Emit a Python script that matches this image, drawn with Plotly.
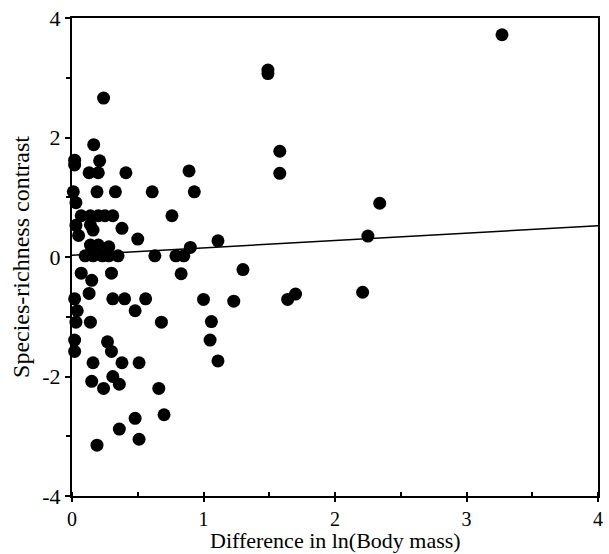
import plotly.graph_objects as go

diff_ln_mass = [3.27, 1.49, 1.49, 0.24, 1.58, 1.58, 2.34, 2.25, 2.21, 1.70, 1.64,
                0.165, 0.02, 0.02, 0.21, 0.13, 0.20, 0.41, 0.89,
                0.01, 0.19, 0.33, 0.61, 0.93, 0.03,
                0.07, 0.14, 0.20, 0.25, 0.31, 0.76,
                0.03, 0.14, 0.16, 0.38, 0.05, 0.50, 1.11,
                0.14, 0.20, 0.28, 0.90,
                0.10, 0.16, 0.23, 0.28, 0.35, 0.63, 0.79, 0.85,
                0.07, 0.30, 0.83, 1.30, 0.15, 0.13,
                0.02, 0.31, 0.40, 0.56, 1.00, 1.23,
                0.04, 0.48, 0.03, 0.14, 0.68, 1.06,
                0.02, 0.02, 0.27, 0.30, 1.05, 1.11,
                0.16, 0.38, 0.51, 0.15, 0.24, 0.31, 0.36, 0.66,
                0.70, 0.48, 0.36, 0.51, 0.19]
richness_contrast = [3.72, 3.13, 3.07, 2.66, 1.77, 1.40, 0.90, 0.35, -0.59, -0.62, -0.71,
                     1.88, 1.62, 1.54, 1.61, 1.41, 1.41, 1.41, 1.44,
                     1.09, 1.09, 1.09, 1.09, 1.09, 0.91,
                     0.69, 0.69, 0.69, 0.69, 0.69, 0.69,
                     0.53, 0.54, 0.45, 0.48, 0.36, 0.30, 0.27,
                     0.20, 0.20, 0.17, 0.16,
                     0.02, 0.02, 0.02, 0.02, 0.02, 0.02, 0.02, 0.02,
                     -0.27, -0.27, -0.28, -0.21, -0.39, -0.61,
                     -0.70, -0.70, -0.70, -0.70, -0.71, -0.74,
                     -0.90, -0.90, -1.09, -1.09, -1.09, -1.08,
                     -1.39, -1.58, -1.42, -1.58, -1.39, -1.74,
                     -1.77, -1.77, -1.77, -2.08, -2.20, -2.00, -2.13, -2.20,
                     -2.64, -2.70, -2.88, -3.05, -3.15]

fit_intercept = 0.03
fit_slope = 0.123
fit_x = [0, 4]

x_ticks = [0, 1, 2, 3, 4]
x_tick_labels = ["0", "1", "2", "3", "4"]
y_ticks = [-4, -2, 0, 2, 4]
y_tick_labels = ["-4", "-2", "0", "2", "4"]
x_title = "Difference in ln(Body mass)"
y_title = "Species-richness contrast"

serif = "Liberation Serif"

fig = go.Figure()
fig.add_trace(go.Scatter(
    x=diff_ln_mass, y=richness_contrast, mode="markers",
    marker=dict(color="black", size=13, line=dict(width=0)),
    showlegend=False, cliponaxis=False))
fig.add_trace(go.Scatter(
    x=fit_x, y=[fit_intercept + fit_slope * v for v in fit_x], mode="lines",
    line=dict(color="black", width=1.5), showlegend=False))

axis_common = dict(
    showgrid=False, zeroline=False, showline=True, linecolor="black", linewidth=2,
    mirror=True, ticks="outside", ticklen=5, tickwidth=1.5, tickcolor="black",
    tickfont=dict(family=serif, size=22, color="black"),
)
fig.update_xaxes(range=[0, 4], tickvals=x_ticks, ticktext=x_tick_labels,
                 minor=dict(dtick=0.5, ticks="inside", ticklen=4, tickcolor="black"),
                 ticklabelstandoff=0,
                 **{**axis_common, "ticklen": 4,
                    "tickfont": dict(family=serif, size=20, color="black")})
fig.update_yaxes(range=[-4, 4], tickvals=y_ticks, ticktext=y_tick_labels,
                 minor=dict(dtick=1, ticks="outside", ticklen=4, tickcolor="black"),
                 title=dict(text=y_title, standoff=6,
                            font=dict(family=serif, size=24, color="black")),
                 **axis_common)
fig.add_annotation(text=x_title, xref="paper", yref="paper", x=0.5, y=-58 / 478,
                   xanchor="center", yanchor="bottom", showarrow=False, borderpad=0,
                   font=dict(family=serif, size=22, color="black"))
fig.update_layout(
    width=609, height=554,
    margin=dict(l=72, r=6, t=18, b=58),
    plot_bgcolor="white", paper_bgcolor="white",
    font=dict(family=serif, color="black"),
)
fig.write_html("out.html")
